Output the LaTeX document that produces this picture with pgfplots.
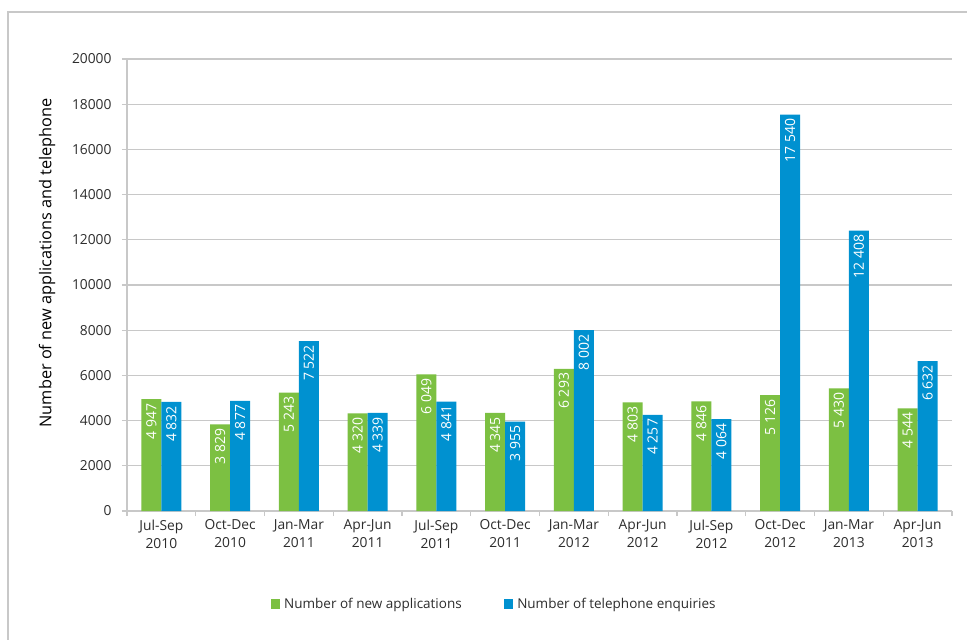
\documentclass[border=0pt]{standalone}
\usepackage{pgfplots}
\pgfplotsset{compat=1.18}
\usepackage{fontspec}
\setmainfont{Open Sans}
\definecolor{cgreen}{RGB}{124,192,66}
\definecolor{cblue}{RGB}{0,145,208}
\definecolor{txt}{RGB}{45,45,45}
\definecolor{gridc}{RGB}{200,200,200}
\begin{document}
\begin{tikzpicture}
\useasboundingbox (-127bp,-129bp) rectangle (840bp,511bp);
\fill[white] (-127bp,-129bp) rectangle (840bp,511bp);
\draw[gridc, line width=1.2bp] (-119bp,-140bp) -- (-119bp,499bp) -- (850bp,499bp);
\begin{axis}[
  at={(0,0)}, anchor=south west,
  scale only axis, width=825bp, height=452bp,
  ybar=0pt, bar width=0.29,
  xmin=-0.5, xmax=11.5, ymin=0, ymax=20000,
  axis x line*=bottom, axis y line*=left,
  axis line style={draw=gridc, line width=1.2bp},
  ytick={0,2000,...,20000},
  scaled y ticks=false,
  ymajorgrids, grid style={draw=gridc, line width=1.2bp},
  xtick={-0.5,0.5,...,11.5},
  x tick label as interval,
  xticklabels={{Jul-Sep\\2010},{Oct-Dec\\2010},{Jan-Mar\\2011},{Apr-Jun\\2011},{Jul-Sep\\2011},{Oct-Dec\\2011},{Jan-Mar\\2012},{Apr-Jun\\2012},{Jul-Sep\\2012},{Oct-Dec\\2012},{Jan-Mar\\2013},{Apr-Jun\\2013}},
  tick align=outside,
  major tick length=5bp,
  tick style={draw=gridc, line width=1.2bp},
  xticklabel style={align=center, font=\fontsize{13.8bp}{18bp}\selectfont, text=txt},
  yticklabel style={font=\fontsize{13.8bp}{16bp}\selectfont, text=txt, xshift=-7bp},
  /pgf/number format/1000 sep={},
  /pgf/number format/assume math mode=true,
  ylabel={Number of new applications and telephone},
  every axis y label/.style={at={(axis description cs:-0.097,0.549)}, rotate=90, anchor=center, font=\fontsize{16.3bp}{18bp}\selectfont, text=black},
  nodes near coords={\pgfmathprintnumber[assume math mode=true,1000 sep={\ }]{\pgfplotspointmeta}},
  every node near coord/.append style={rotate=90, anchor=east, text=white, font=\fontsize{14bp}{14bp}\selectfont, inner sep=4bp},
  legend columns=2,
  legend style={at={(0.445,-0.206)}, anchor=center, draw=none, fill=none,
    font=\fontsize{13.5bp}{16bp}\selectfont, text=txt,
    /tikz/every odd column/.append style={column sep=2bp},
    /tikz/every even column/.append style={column sep=40bp}},
  legend image code/.code={\fill[#1] (0bp,-4.5bp) rectangle (9.5bp,5bp);},
]
\addplot[fill=cgreen, draw=none] coordinates {
(0,4947) (1,3829) (2,5243) (3,4320) (4,6049) (5,4345) (6,6293) (7,4803) (8,4846) (9,5126) (10,5430) (11,4544)};
\addplot[fill=cblue, draw=none] coordinates {
(0,4832) (1,4877) (2,7522) (3,4339) (4,4841) (5,3955) (6,8002) (7,4257) (8,4064) (9,17540) (10,12408) (11,6632)};
\legend{Number of new applications, Number of telephone enquiries}
\end{axis}
\end{tikzpicture}
\end{document}
